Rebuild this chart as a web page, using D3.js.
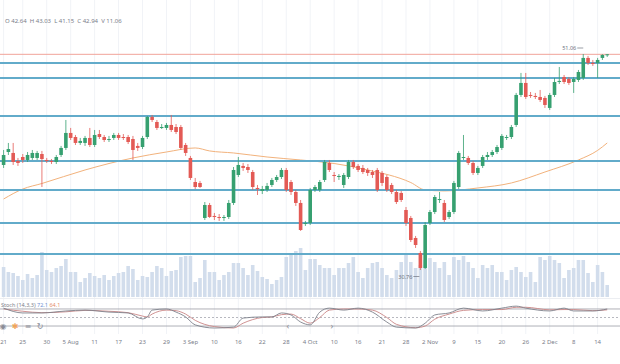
<!DOCTYPE html>
<html>
<head>
<meta charset="utf-8">
<script src="https://cdnjs.cloudflare.com/ajax/libs/d3/7.8.5/d3.min.js"></script>
<style>
  html, body { margin: 0; padding: 0; background: #fff; }
  svg { display: block; font-family: "Noto Sans", "DejaVu Sans", sans-serif; }
</style>
</head>
<body>
<svg id="chart"></svg>
<script>
const width = 620, height = 364;

// daily bars, oldest first
const opens = [40.63,41.85,41.76,41.01,41.38,41.10,41.29,41.29,41.66,41.10,
  41.01,40.91,41.57,42.23,43.64,43.26,42.70,42.70,43.17,42.51,
  43.54,43.26,42.98,43.17,43.45,43.26,43.26,43.07,42.42,42.32,
  43.26,45.14,44.67,44.11,44.11,44.39,44.20,44.20,42.51,41.29,
  39.03,38.94,35.65,36.87,35.84,35.74,35.65,35.74,37.06,39.69,
  40.54,40.44,39.97,38.47,38.19,38.28,38.75,39.22,39.50,40.16,
  39.03,38.09,37.06,35.08,35.18,38.28,38.28,39.22,40.82,39.69,
  39.50,38.75,39.50,40.91,40.54,40.35,40.16,39.97,40.16,39.88,
  39.50,38.75,38.09,38.00,36.40,35.65,33.77,32.36,30.95,35.18,
  36.21,37.34,37.06,35.74,36.21,38.56,41.29,41.29,40.82,39.88,
  40.54,41.38,41.57,41.85,42.23,43.17,43.26,44.39,47.21,48.34,
  47.21,47.12,47.02,46.93,45.99,47.21,48.43,48.90,48.71,48.43,
  48.62,48.81,50.69,50.22,50.22,50.69,50.97];
const highs = [42.04,42.70,42.70,41.29,41.66,41.85,42.04,41.95,41.95,41.29,
  41.19,41.57,42.42,44.86,44.11,43.45,43.17,43.36,44.11,43.92,
  43.92,43.45,43.36,43.64,43.64,43.54,43.45,43.36,42.70,43.36,
  45.24,45.33,44.86,44.48,44.58,45.33,44.48,44.39,42.70,41.48,
  39.41,39.13,37.15,37.06,36.12,36.02,35.93,37.34,40.44,41.38,
  40.82,40.72,40.16,38.75,38.66,38.94,39.41,39.69,40.35,40.35,
  39.22,38.28,37.34,35.37,38.47,38.75,39.22,41.10,41.10,39.97,
  39.78,39.88,41.10,41.10,40.72,40.63,40.35,40.16,40.35,40.07,
  39.69,38.94,38.28,38.19,36.68,35.84,33.96,32.55,35.27,36.40,
  37.81,38.09,37.34,36.40,39.13,41.95,43.45,41.48,41.01,40.54,
  41.57,41.85,42.04,42.51,43.54,43.45,44.39,47.40,49.28,49.28,
  47.49,47.40,47.68,47.12,47.40,48.81,49.84,49.09,48.90,48.90,
  49.56,51.06,50.88,50.50,50.69,51.04,51.05];
const lows = [40.35,41.57,40.63,40.54,40.82,40.91,41.10,41.10,38.56,40.82,
  40.72,40.72,41.38,42.04,42.98,42.51,42.51,42.42,42.32,42.32,
  43.07,42.79,42.79,42.98,42.98,42.98,42.60,41.10,41.95,42.13,
  43.07,44.67,43.92,44.01,43.92,43.73,43.54,42.04,41.48,39.22,
  38.37,38.47,35.46,35.65,35.46,35.37,35.37,35.55,36.87,39.50,
  40.07,39.88,38.28,37.81,37.90,38.09,38.56,39.03,39.31,38.09,
  37.81,36.78,34.43,34.90,34.99,38.09,38.09,39.03,39.97,39.03,
  39.22,38.47,39.31,40.25,39.97,39.78,39.60,39.41,38.09,38.66,
  38.09,37.90,36.96,37.15,34.90,33.39,32.83,30.76,30.85,34.99,
  36.02,37.06,35.27,35.55,36.02,38.37,41.10,40.63,39.69,39.69,
  40.35,41.10,41.38,41.66,42.04,42.98,43.07,44.20,47.02,46.83,
  46.93,46.83,46.55,45.99,45.80,47.02,48.24,48.24,48.15,47.40,
  48.43,48.62,50.03,49.94,48.81,50.50,50.78];
const closes = [41.57,42.13,40.91,40.82,41.10,41.57,41.76,41.76,41.19,41.01,
  40.91,41.38,42.23,43.64,43.17,42.70,42.89,43.17,42.51,43.45,
  43.26,42.98,43.07,43.45,43.17,43.17,42.79,42.04,42.23,43.17,
  45.14,44.86,44.11,44.20,44.39,43.92,43.73,42.23,41.76,39.41,
  38.56,38.56,36.87,35.74,35.74,35.65,35.74,37.06,40.16,40.63,
  40.35,40.16,38.56,38.37,38.37,38.66,39.22,39.50,40.16,38.28,
  38.09,37.06,34.52,35.18,38.28,38.56,39.03,40.91,40.16,39.60,
  39.60,39.69,40.91,40.44,40.16,39.97,39.88,39.69,38.28,38.94,
  38.28,38.09,37.15,37.34,35.18,33.58,33.11,30.95,34.99,36.21,
  37.62,37.43,35.46,36.21,38.94,41.76,41.38,40.82,39.88,40.35,
  41.38,41.57,41.85,42.32,43.36,43.26,44.20,47.21,48.34,47.02,
  47.12,47.02,46.74,46.27,47.21,48.43,48.53,48.43,48.34,48.71,
  49.37,50.69,50.22,50.12,50.50,50.97,51.03];
// volume, millions
const volumes = [3.0,2.5,2.4,2.1,1.7,2.3,1.9,2.2,4.5,2.7,
  2.5,2.9,3.1,3.8,2.5,2.5,1.5,1.9,2.4,2.1,
  1.9,2.2,1.7,2.1,2.4,2.5,3.1,2.8,1.7,2.1,
  2.0,2.5,3.1,2.9,2.1,2.6,2.7,4.0,4.1,4.1,
  1.5,1.9,3.7,2.5,2.5,1.7,2.2,2.5,3.4,3.4,
  2.9,2.2,3.2,2.6,2.0,1.8,1.3,1.7,2.0,4.0,
  4.4,4.6,4.9,2.7,3.8,3.8,3.2,2.9,2.9,2.2,
  2.9,2.9,3.4,4.0,2.5,1.9,2.9,3.4,3.5,2.9,
  2.2,1.9,2.7,3.5,4.4,3.5,2.9,3.2,3.7,3.9,
  3.5,2.9,3.5,2.2,4.0,3.7,4.1,3.5,2.9,1.9,
  3.2,2.9,3.2,2.5,2.5,1.7,2.7,3.0,2.5,2.0,
  2.5,1.5,4.0,3.7,4.1,3.7,3.4,1.9,2.7,2.9,
  3.7,3.7,2.4,1.5,3.2,2.5,1.2];

// moving average, read at some bars
const maIdx = [0,4,8,17,27,34,40,43,48,55,62,69,76,85,88,92,99,106,113,120,124,126];
const maVals = [37.43,38.37,38.89,40.16,41.29,41.85,42.23,41.95,41.76,41.38,41.10,40.77,40.16,38.98,38.28,38.19,38.47,38.94,39.97,41.10,42.00,42.70];

// stochastic (14,3,3), read at some bars
const stochIdx = [0,4,8,13,17,22,26,29,30,31,34,36,38,40,44,48,50,54,56,58,60,62,64,66,68,71,74,77,80,82,86,88,90,93,96,100,104,107,109,114,117,119,123,126];
const stochK = [83,66,66,73,76,69,66,45,52,76,80,69,52,24,13,16,48,52,52,66,59,34,24,69,83,76,83,69,34,16,13,30,59,66,83,73,83,90,83,73,83,73,73,80];
const stochD = [80,72,67,70,75,72,67,55,52,62,76,74,62,40,18,13,30,50,52,60,62,46,30,50,76,80,80,76,50,26,14,20,44,62,75,78,78,86,86,77,78,78,74,77];
const stochLegend = ["72.1", "64.1"];

// drawn support / resistance levels and last price
const levels = [50.22, 48.81, 45.24, 41.01, 38.28, 35.18, 32.26];
const lastPrice = 51.03;

const tickIdx = [0,4,9,14,19,24,29,34,39,44,49,54,59,64,69,74,79,84,89,94,99,104,109,114,119,124];
const tickLabels = ["21","25","30","5 Aug","11","17","23","29","3 Sep","10","16","22","28","4 Oct",
  "10","16","21","28","2 Nov","9","15","20","26","2 Dec","8","14"];

const headerText = "O 42.64  H 43.03  L 41.15  C 42.94  V 11.06";

const upColor = "#36a070", downColor = "#e35a55";

const bars = closes.map((c, i) => ({ i, o: opens[i], h: highs[i], l: lows[i], c, v: volumes[i] }));

const svg = d3.select("#chart")
  .attr("width", width)
  .attr("height", height);

svg.append("rect").attr("width", width).attr("height", height).attr("fill", "#fff");

const x = d3.scaleBand()
  .domain(d3.range(bars.length))
  .range([0.6, 0.6 + 4.8 * bars.length])
  .padding(0.25);
const xc = i => x(i) + x.bandwidth() / 2;

const y = d3.scaleLinear().domain([30.76, 51.06]).range([270, 54]);
const yVol = d3.scaleLinear().domain([0, 6]).range([297, 237]);
const yStoch = d3.scaleLinear().domain([0, 100]).range([331.7, 303.3]);

// faint vertical grid at the date ticks
svg.append("g")
  .selectAll("line")
  .data(tickIdx)
  .join("line")
    .attr("x1", d => xc(d)).attr("x2", d => xc(d))
    .attr("y1", 0).attr("y2", 334)
    .attr("stroke", "#f1f3f7");

// pane divider
svg.append("line")
  .attr("x1", 0).attr("x2", width)
  .attr("y1", 298.5).attr("y2", 298.5)
  .attr("stroke", "#eceef2");

// volume
svg.append("g")
  .selectAll("rect")
  .data(bars)
  .join("rect")
    .attr("x", d => x(d.i))
    .attr("width", x.bandwidth())
    .attr("y", d => yVol(d.v))
    .attr("height", d => yVol(0) - yVol(d.v))
    .attr("fill", "#d2ddec");

// moving average
svg.append("path")
  .datum(maIdx.map((d, k) => [d, maVals[k]]))
  .attr("fill", "none")
  .attr("stroke", "#f2b27c")
  .attr("stroke-width", 1)
  .attr("d", d3.line().x(d => xc(d[0])).y(d => y(d[1])).curve(d3.curveMonotoneX));

// level lines
svg.append("g")
  .selectAll("line")
  .data(levels)
  .join("line")
    .attr("x1", 0).attr("x2", width)
    .attr("y1", d => y(d)).attr("y2", d => y(d))
    .attr("stroke", "#62abca")
    .attr("stroke-width", 2);

svg.append("line")
  .attr("x1", 0).attr("x2", width)
  .attr("y1", y(lastPrice)).attr("y2", y(lastPrice))
  .attr("stroke", "#f1a49a")
  .attr("stroke-width", 1);

// candles
const candle = svg.append("g")
  .selectAll("g")
  .data(bars)
  .join("g")
    .attr("stroke", d => d.c >= d.o ? upColor : downColor)
    .attr("fill", d => d.c >= d.o ? upColor : downColor);

candle.append("line")
  .attr("x1", d => xc(d.i)).attr("x2", d => xc(d.i))
  .attr("y1", d => y(d.h)).attr("y2", d => y(d.l))
  .attr("stroke-width", 0.8);

candle.append("rect")
  .attr("stroke", "none")
  .attr("x", d => x(d.i))
  .attr("width", x.bandwidth())
  .attr("y", d => y(Math.max(d.o, d.c)))
  .attr("height", d => Math.max(1, Math.abs(y(d.o) - y(d.c))));

// high / low markers
const fmt = d3.format(".2f");
const hiI = d3.maxIndex(highs), loI = d3.minIndex(lows);

svg.append("text")
  .attr("x", xc(hiI) - 7).attr("y", y(highs[hiI]) - 4)
  .attr("text-anchor", "end")
  .attr("font-size", 5.5).attr("fill", "#6f7380")
  .text(fmt(highs[hiI]));
svg.append("line")
  .attr("x1", xc(hiI) - 6).attr("x2", xc(hiI))
  .attr("y1", y(highs[hiI]) - 6).attr("y2", y(highs[hiI]) - 6)
  .attr("stroke", "#6f7380").attr("stroke-width", 0.7);

svg.append("text")
  .attr("x", xc(loI) - 8).attr("y", y(lows[loI]) + 8.5)
  .attr("text-anchor", "end")
  .attr("font-size", 5.5).attr("fill", "#6f7380")
  .text(fmt(lows[loI]));
svg.append("line")
  .attr("x1", xc(loI) - 7).attr("x2", xc(loI) - 1)
  .attr("y1", y(lows[loI]) + 6.5).attr("y2", y(lows[loI]) + 6.5)
  .attr("stroke", "#6f7380").attr("stroke-width", 0.7);

// OHLC header
svg.append("text")
  .attr("x", 5).attr("y", 23)
  .attr("font-size", 6).attr("fill", "#7a7e8a")
  .attr("xml:space", "preserve")
  .text(headerText);

// stochastic pane
const bandLines = [80, 20];
svg.append("g")
  .selectAll("line")
  .data(bandLines)
  .join("line")
    .attr("x1", 0).attr("x2", width)
    .attr("y1", d => yStoch(d)).attr("y2", d => yStoch(d))
    .attr("stroke", "#9a9ca4").attr("stroke-width", 0.8);
svg.append("line")
  .attr("x1", 0).attr("x2", width)
  .attr("y1", yStoch(50)).attr("y2", yStoch(50))
  .attr("stroke", "#a4a6ae").attr("stroke-width", 0.8)
  .attr("stroke-dasharray", "2,2");

const stochLine = vals => d3.line()
  .x(d => xc(d))
  .y((d, k) => yStoch(vals[k]))
  .curve(d3.curveMonotoneX)(stochIdx);

svg.append("path").attr("d", stochLine(stochD))
  .attr("fill", "none").attr("stroke", "#c98686").attr("stroke-width", 0.9);
svg.append("path").attr("d", stochLine(stochK))
  .attr("fill", "none").attr("stroke", "#7e818b").attr("stroke-width", 0.9);

const stochLabel = svg.append("text")
  .attr("x", 1).attr("y", 306.5)
  .attr("font-size", 5.5).attr("fill", "#7a7e8a");
stochLabel.append("tspan").text("Stoch (14,3,3) ");
stochLabel.append("tspan").attr("fill", "#6f93d3").text(stochLegend[0] + " ");
stochLabel.append("tspan").attr("fill", "#e58d68").text(stochLegend[1]);

// pane buttons
const icons = [["◉", 3, "#8a8d96"], ["✱", 15, "#f0a45a"], ["≡", 28, "#8a8d96"], ["↻", 40, "#8a8d96"]];
svg.append("g")
  .selectAll("text")
  .data(icons)
  .join("text")
    .attr("x", d => d[1]).attr("y", 329)
    .attr("text-anchor", "middle")
    .attr("font-size", 8).attr("fill", d => d[2])
    .text(d => d[0]);

svg.append("text").attr("x", 288).attr("y", 329).attr("text-anchor", "middle")
  .attr("font-size", 9).attr("fill", "#8a8d96").text("‹");
svg.append("text").attr("x", 332).attr("y", 329).attr("text-anchor", "middle")
  .attr("font-size", 9).attr("fill", "#8a8d96").text("›");

// time axis
svg.append("g")
  .selectAll("text")
  .data(tickIdx)
  .join("text")
    .attr("x", d => xc(d)).attr("y", 344)
    .attr("text-anchor", "middle")
    .attr("font-size", 6).attr("fill", "#7a7e8a")
    .text((d, k) => tickLabels[k]);
</script>
</body>
</html>
